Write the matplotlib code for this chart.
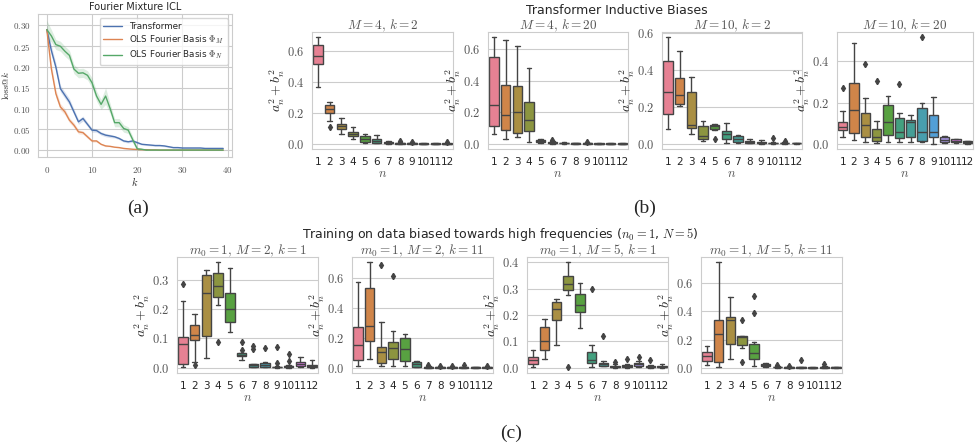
import matplotlib
matplotlib.use('Agg')
import matplotlib.pyplot as plt
import seaborn as sns
from matplotlib.ticker import MultipleLocator, FuncFormatter

# ---- panel (a): loss@k curves ----
K = list(range(40))
TRANSFORMER = [0.29, 0.24, 0.20, 0.148, 0.132, 0.116, 0.092, 0.068, 0.076, 0.062,
               0.048, 0.047, 0.040, 0.036, 0.034, 0.032, 0.028, 0.022, 0.020, 0.022,
               0.018, 0.014, 0.013, 0.012, 0.011, 0.011, 0.010, 0.008, 0.006, 0.006,
               0.005, 0.005, 0.005, 0.005, 0.005, 0.004, 0.004, 0.004, 0.004, 0.004]
OLS_M = [0.29, 0.196, 0.136, 0.104, 0.092, 0.072, 0.060, 0.044, 0.042, 0.032,
         0.022, 0.022, 0.014, 0.010, 0.009, 0.007, 0.006, 0.004, 0.003, 0.002,
         0.0015, 0.001, 0.001, 0.0005, 0.0005, 0, 0, 0, 0, 0,
         0, 0, 0, 0, 0, 0, 0, 0, 0, 0]
OLS_N = [0.29, 0.275, 0.254, 0.25, 0.238, 0.228, 0.195, 0.185, 0.186, 0.18,
         0.162, 0.13, 0.11, 0.13, 0.10, 0.066, 0.066, 0.052, 0.048, 0.025,
         0.003, 0.002, 0, 0, 0, 0, 0, 0, 0, 0,
         0, 0, 0, 0, 0, 0, 0, 0, 0, 0]
T_BAND = [0.010, 0.012, 0.010, 0.008, 0.008, 0.008, 0.007, 0.006, 0.006, 0.005,
          0.005, 0.004, 0.004, 0.004, 0.004, 0.003, 0.003, 0.003, 0.003, 0.003,
          0.003, 0.002, 0.002, 0.002, 0.002, 0.002, 0.002, 0.002, 0.002, 0.002,
          0.002, 0.002, 0.002, 0.002, 0.002, 0.002, 0.002, 0.002, 0.002, 0.002]
M_BAND = [0.010, 0.012, 0.010, 0.008, 0.007, 0.006, 0.006, 0.005, 0.004, 0.004,
          0.003, 0.003, 0.002, 0.002, 0.001, 0.001, 0.001, 0.001, 0.001, 0.001,
          0, 0, 0, 0, 0, 0, 0, 0, 0, 0,
          0, 0, 0, 0, 0, 0, 0, 0, 0, 0]
N_BAND = [0.022, 0.015, 0.012, 0.012, 0.012, 0.012, 0.011, 0.011, 0.011, 0.011,
          0.012, 0.012, 0.012, 0.020, 0.012, 0.010, 0.010, 0.009, 0.008, 0.008,
          0.004, 0.002, 0.001, 0, 0, 0, 0, 0, 0, 0,
          0, 0, 0, 0, 0, 0, 0, 0, 0, 0]

# ---- box stats: (whislo, q1, median, q3, whishi) per n = 1..12 ----
N_LABELS = ['1', '2', '3', '4', '5', '6', '7', '8', '9', '10', '11', '12']

M4_K2 = [(0.37, 0.52, 0.57, 0.64, 0.69), (0.145, 0.20, 0.225, 0.25, 0.27),
         (0.066, 0.096, 0.113, 0.13, 0.167), (0.032, 0.049, 0.064, 0.077, 0.109),
         (0.006, 0.013, 0.028, 0.049, 0.064), (0.002, 0.006, 0.017, 0.028, 0.055),
         (0.0, 0.002, 0.005, 0.010, 0.015), (0.0, 0.001, 0.003, 0.006, 0.012),
         (0.0, 0.0005, 0.002, 0.004, 0.008), (0.0, 0.0005, 0.001, 0.002, 0.004),
         (0.0, 0.0005, 0.001, 0.002, 0.004), (0.0, 0.0005, 0.001, 0.002, 0.004)]
M4_K2_FLIERS = [[], [0.11], [], [], [], [], [], [0.018], [0.012], [], [], [0.008]]

M4_K20 = [(0.059, 0.112, 0.246, 0.55, 0.676), (0.027, 0.086, 0.183, 0.375, 0.659),
          (0.044, 0.069, 0.202, 0.364, 0.623), (0.013, 0.08, 0.149, 0.263, 0.484),
          (0.003, 0.010, 0.016, 0.023, 0.032), (0.001, 0.003, 0.006, 0.010, 0.018),
          (0.0, 0.002, 0.004, 0.007, 0.012), (0.0, 0.001, 0.002, 0.004, 0.006),
          (0.0, 0.001, 0.002, 0.003, 0.005), (0.0, 0.0005, 0.001, 0.002, 0.004),
          (0.0, 0.0005, 0.001, 0.002, 0.004), (0.0, 0.0005, 0.001, 0.002, 0.003)]
M4_K20_FLIERS = [[], [], [], [], [], [0.025], [], [], [0.01], [], [], []]

M10_K2 = [(0.077, 0.163, 0.279, 0.446, 0.577), (0.202, 0.214, 0.263, 0.359, 0.505),
          (0.054, 0.086, 0.104, 0.28, 0.3625), (0.014, 0.027, 0.041, 0.098, 0.123),
          (0.073, 0.080, 0.095, 0.102, 0.107), (0.005, 0.023, 0.05, 0.068, 0.1125),
          (0.005, 0.009, 0.027, 0.039, 0.048), (0.002, 0.004, 0.009, 0.016, 0.023),
          (0.0, 0.002, 0.005, 0.009, 0.02), (0.0, 0.001, 0.002, 0.005, 0.009),
          (0.0, 0.001, 0.002, 0.004, 0.008), (0.0, 0.001, 0.002, 0.003, 0.006)]
M10_K2_FLIERS = [[], [], [], [], [0.023], [], [], [], [], [0.029], [0.015], []]

M10_K20 = [(0.032, 0.069, 0.08, 0.106, 0.157), (0.021, 0.053, 0.162, 0.293, 0.485),
           (0.008, 0.034, 0.091, 0.152, 0.221), (0.005, 0.013, 0.032, 0.072, 0.109),
           (0.008, 0.042, 0.107, 0.187, 0.232), (0.008, 0.029, 0.058, 0.125, 0.149),
           (0.008, 0.034, 0.107, 0.114, 0.138), (0.011, 0.014, 0.056, 0.176, 0.197),
           (0.002, 0.032, 0.058, 0.141, 0.226), (0.005, 0.008, 0.021, 0.034, 0.037),
           (0.004, 0.008, 0.014, 0.024, 0.026), (0.002, 0.005, 0.008, 0.013, 0.016)]
M10_K20_FLIERS = [[0.269], [], [0.384], [0.304], [], [0.288], [], [0.514], [], [], [], []]

HF_M2_K1 = [(0.002, 0.0136, 0.0815, 0.104, 0.229), (0.018, 0.093, 0.113, 0.145, 0.183),
            (0.032, 0.11, 0.255, 0.315, 0.332), (0.215, 0.241, 0.28, 0.323, 0.36),
            (0.121, 0.156, 0.2, 0.255, 0.34), (0.025, 0.0385, 0.045, 0.049, 0.051),
            (0.001, 0.002, 0.009, 0.0136, 0.0136), (0.001, 0.003, 0.011, 0.017, 0.02),
            (0.0, 0.001, 0.002, 0.003, 0.007), (0.0, 0.001, 0.0045, 0.007, 0.011),
            (0.002, 0.0045, 0.0136, 0.02, 0.036), (0.0, 0.002, 0.007, 0.011, 0.025)]
HF_M2_K1_FLIERS = [[0.287], [0.011], [], [0.087], [], [0.087, 0.062], [0.075, 0.064],
                   [0.066], [0.071, 0.017], [0.048, 0.023], [], []]

HF_M2_K11 = [(0.011, 0.049, 0.15, 0.272, 0.574), (0.055, 0.181, 0.28, 0.534, 0.702),
             (0.009, 0.031, 0.1015, 0.141, 0.305), (0.011, 0.057, 0.132, 0.17, 0.243),
             (0.013, 0.046, 0.126, 0.196, 0.227), (0.003, 0.007, 0.022, 0.04, 0.044),
             (0.0, 0.001, 0.003, 0.006, 0.01), (0.0, 0.001, 0.002, 0.004, 0.008),
             (0.0, 0.001, 0.002, 0.003, 0.006), (0.0, 0.001, 0.002, 0.004, 0.008),
             (0.0, 0.001, 0.002, 0.003, 0.005), (0.0, 0.001, 0.002, 0.003, 0.005)]
HF_M2_K11_FLIERS = [[], [], [0.684], [0.611], [], [], [0.016], [0.012], [0.012], [0.018], [], [0.01]]

HF_M5_K1 = [(0.0025, 0.0126, 0.029, 0.04, 0.069), (0.0315, 0.068, 0.103, 0.155, 0.185),
            (0.0857, 0.18, 0.223, 0.25, 0.262), (0.275, 0.296, 0.318, 0.347, 0.40),
            (0.151, 0.21, 0.237, 0.28, 0.32), (0.0025, 0.019, 0.029, 0.0605, 0.0845),
            (0.005, 0.0076, 0.0126, 0.019, 0.025), (0.0, 0.001, 0.003, 0.006, 0.015),
            (0.0, 0.002, 0.005, 0.01, 0.0126), (0.002, 0.005, 0.0126, 0.0177, 0.025),
            (0.0, 0.001, 0.003, 0.005, 0.009), (0.0, 0.002, 0.004, 0.0076, 0.015)]
HF_M5_K1_FLIERS = [[], [], [], [0.0025], [], [0.299], [0.122], [0.023], [0.0315],
                   [0.0416], [0.028], []]

HF_M5_K11 = [(0.016, 0.045, 0.082, 0.115, 0.153), (0.005, 0.038, 0.242, 0.341, 0.748),
             (0.061, 0.165, 0.341, 0.36, 0.504), (0.141, 0.158, 0.216, 0.228, 0.228),
             (0.012, 0.064, 0.101, 0.169, 0.179), (0.005, 0.012, 0.021, 0.028, 0.035),
             (0.0, 0.002, 0.004, 0.008, 0.015), (0.0, 0.001, 0.003, 0.006, 0.01),
             (0.0, 0.001, 0.002, 0.004, 0.008), (0.0, 0.0005, 0.001, 0.002, 0.004),
             (0.0, 0.001, 0.003, 0.006, 0.012), (0.0, 0.001, 0.002, 0.004, 0.006)]
HF_M5_K11_FLIERS = [[], [], [], [0.341, 0.042], [0.506, 0.388], [], [0.02], [0.015],
                    [0.052], [], [0.025], []]

sns.set_style('whitegrid')
plt.rcParams['font.family'] = ['DejaVu Sans']
plt.rcParams['mathtext.fontset'] = 'cm'

EDGE = '#444444'
TEXT = '#262626'
box_colors = [sns.desaturate(c, 0.75) for c in sns.color_palette('husl', 12)]
line_colors = sns.color_palette('deep')

fig = plt.figure(figsize=(9.76, 4.46), dpi=100)


def px_axes(left, top, width, height):
    return fig.add_axes([left / 976, 1 - (top + height) / 446, width / 976, height / 446])


def math_fmt(fmt):
    return FuncFormatter(lambda v, p: r'$' + (fmt % v) + r'$')


def draw_boxes(ax, boxes, fliers, title, step):
    stats = []
    for (lo, q1, med, q3, hi), fl in zip(boxes, fliers):
        stats.append(dict(whislo=lo, q1=q1, med=med, q3=q3, whishi=hi, fliers=fl))
    art = ax.bxp(stats, positions=list(range(len(stats))), widths=0.8,
                 patch_artist=True, showfliers=True,
                 boxprops=dict(edgecolor=EDGE, linewidth=1.0),
                 medianprops=dict(color=EDGE, linewidth=1.0),
                 whiskerprops=dict(color=EDGE, linewidth=1.0),
                 capprops=dict(color=EDGE, linewidth=1.0),
                 flierprops=dict(marker='d', markerfacecolor=EDGE,
                                 markeredgecolor=EDGE, markersize=3.2))
    for patch, c in zip(art['boxes'], box_colors):
        patch.set_facecolor(c)
    ax.set_xlim(-0.5, 11.5)
    ax.set_xticks(list(range(12)))
    ax.set_xticklabels(N_LABELS, fontsize=7.5, color=TEXT)
    ax.grid(False, axis='x')
    ax.yaxis.set_major_locator(MultipleLocator(step))
    ax.yaxis.set_major_formatter(math_fmt('%.1f'))
    ax.tick_params(axis='y', labelsize=9, labelcolor='#555555', pad=2)
    ax.tick_params(axis='x', pad=2)
    ax.set_title(title, fontsize=9.5, color='#555555', pad=2)
    ax.set_ylabel(r'$a_n^2 + b_n^2$', fontsize=10, labelpad=0)
    ax.set_xlabel(r'$n$', fontsize=9, labelpad=0, color='#555555')
    for s in ax.spines.values():
        s.set_color('#cccccc')


# panel (a)
ax = px_axes(38, 14, 194, 143)
for ys, band, col, lab in [(TRANSFORMER, T_BAND, line_colors[0], 'Transformer'),
                           (OLS_M, M_BAND, line_colors[1], r'OLS Fourier Basis $\Phi_M$'),
                           (OLS_N, N_BAND, line_colors[2], r'OLS Fourier Basis $\Phi_N$')]:
    ax.plot(K, ys, color=col, lw=1.0, label=lab)
    ax.fill_between(K, [y - b for y, b in zip(ys, band)], [y + b for y, b in zip(ys, band)],
                    color=col, alpha=0.2, lw=0)
ax.set_title('Fourier Mixture ICL', fontsize=7, color=TEXT, pad=3)
ax.xaxis.set_major_locator(MultipleLocator(10))
ax.yaxis.set_major_locator(MultipleLocator(0.05))
ax.yaxis.set_major_formatter(math_fmt('%.2f'))
ax.xaxis.set_major_formatter(math_fmt('%d'))
ax.tick_params(labelsize=6.5, labelcolor='#555555', pad=2)
ax.set_xlabel(r'$k$', fontsize=7.5, labelpad=0)
ax.set_ylabel(r'$\mathrm{loss@}k$', fontsize=6.8, labelpad=1)
ax.legend(loc='upper right', fontsize=6.3, frameon=True, borderpad=0.4, labelspacing=0.3,
          handlelength=2.2)
for s in ax.spines.values():
    s.set_color('#cccccc')

# panel (b)
top_panels = [(M4_K2, M4_K2_FLIERS, r'$M = 4,\, k = 2$', 0.2),
              (M4_K20, M4_K20_FLIERS, r'$M = 4,\, k = 20$', 0.2),
              (M10_K2, M10_K2_FLIERS, r'$M = 10,\, k = 2$', 0.2),
              (M10_K20, M10_K20_FLIERS, r'$M = 10,\, k = 20$', 0.2)]
for left, width, (bx, fl, title, step) in zip([312, 488, 662, 837], [141, 140, 140, 136],
                                              top_panels):
    draw_boxes(px_axes(left, 32, width, 117), bx, fl, title, step)

# panel (c)
bottom_panels = [(HF_M2_K1, HF_M2_K1_FLIERS, r'$m_0 = 1,\, M = 2,\, k = 1$', 0.1),
                 (HF_M2_K11, HF_M2_K11_FLIERS, r'$m_0 = 1,\, M = 2,\, k = 11$', 0.2),
                 (HF_M5_K1, HF_M5_K1_FLIERS, r'$m_0 = 1,\, M = 5,\, k = 1$', 0.1),
                 (HF_M5_K11, HF_M5_K11_FLIERS, r'$m_0 = 1,\, M = 5,\, k = 11$', 0.2)]
for left, (bx, fl, title, step) in zip([177, 352, 527, 701], bottom_panels):
    draw_boxes(px_axes(left, 257, 141, 116), bx, fl, title, step)

fig.text(617 / 976, 1 - 10 / 446, 'Transformer Inductive Biases', ha='center', va='center',
         fontsize=9, color=TEXT)
fig.text(500 / 976, 1 - 235 / 446,
         r'Training on data biased towards high frequencies ($n_0 = 1$, $N = 5$)',
         ha='center', va='center', fontsize=9, color=TEXT)

serif = ['Liberation Serif', 'DejaVu Serif']
fig.text(138 / 976, 1 - 208 / 446, '(a)', ha='center', va='center', fontsize=14, family=serif)
fig.text(645 / 976, 1 - 208 / 446, '(b)', ha='center', va='center', fontsize=14, family=serif)
fig.text(511 / 976, 1 - 433 / 446, '(c)', ha='center', va='center', fontsize=14, family=serif)

fig.savefig('out.png', dpi=100)
